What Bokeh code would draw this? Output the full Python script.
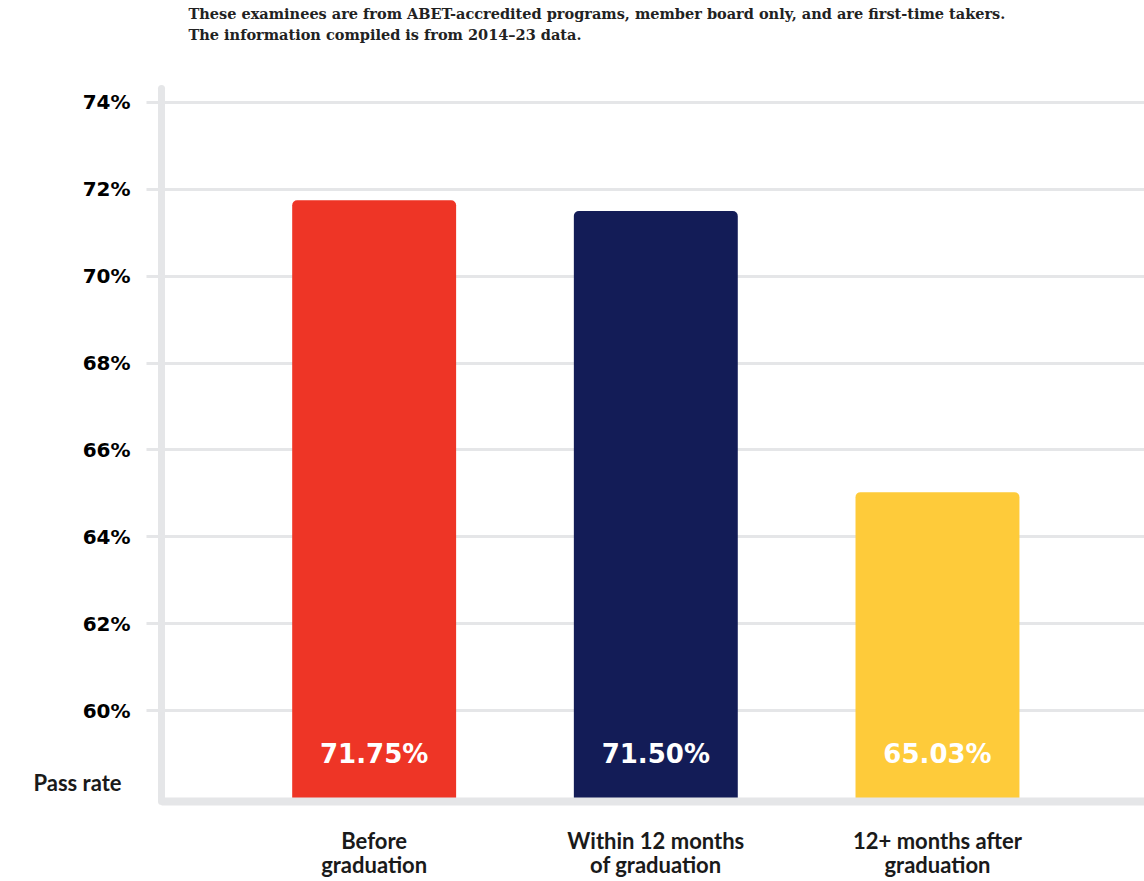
from bokeh.plotting import figure
from bokeh.models import (FixedTicker, PrintfTickFormatter, ColumnDataSource, Range1d,
                          Title, LinearAxis)
from bokeh.embed import file_html
from bokeh.resources import INLINE

categories = ["Before\ngraduation", "Within 12 months\nof graduation", "12+ months after\ngraduation"]
pass_rates = [71.75, 71.50, 65.03]
value_labels = ["71.75%", "71.50%", "65.03%"]
colors = ["#EE3526", "#131C57", "#FECB3A"]
y_ticks = [60, 62, 64, 66, 68, 70, 72, 74]
y_axis_title = "Pass rate"
subtitle_lines = [
    "These examinees are from ABET-accredited programs, member board only, and are first-time takers.",
    "The information compiled is from 2014\u201323 data.",
]

Y0, Y1 = 57.91, 74.32
xs = list(range(len(categories)))

src = ColumnDataSource(dict(x=xs, top=pass_rates, color=colors, lab=value_labels,
                            ly=[59.0] * len(xs)))

p = figure(width=1144, height=881, output_backend="svg", toolbar_location=None,
           x_range=Range1d(-0.755, 2.735), y_range=Range1d(Y0, Y1),
           min_border_left=161, min_border_top=88, min_border_bottom=80, min_border_right=0)
p.outline_line_color = None
p.background_fill_color = "white"

p.vbar(x="x", top="top", bottom=Y0 - 1, width=0.582, fill_color="color", line_color=None,
       border_radius=(5, 5, 0, 0), source=src)
p.text(x="x", y="ly", text="lab", text_color="white", text_font_size="26px",
       text_font_style="bold", text_font={"value": "DejaVu Sans"}, text_align="center",
       text_baseline="middle", source=src)

grey = "#E5E6E8"
# y axis
ya = p.yaxis[0]
ya.ticker = FixedTicker(ticks=y_ticks)
ya.formatter = PrintfTickFormatter(format="%d%%")
ya.axis_line_color = grey
ya.axis_line_width = 7
ya.axis_line_cap = "round"
ya.major_tick_out = 15
ya.major_tick_in = 0
ya.major_tick_line_color = grey
ya.major_tick_line_width = 3
ya.minor_tick_line_color = None
ya.major_label_standoff = 16
ya.major_label_text_font = "DejaVu Sans"
ya.major_label_text_font_style = "bold"
ya.major_label_text_font_size = "20px"
ya.major_label_text_color = "#000000"

# secondary left axis carrying only the "Pass rate" caption
pa = LinearAxis(ticker=FixedTicker(ticks=[58.34]),
                major_label_overrides={58.34: y_axis_title})
pa.axis_line_color = None
pa.major_tick_line_color = None
pa.minor_tick_line_color = None
pa.major_label_standoff = -48
pa.major_label_text_font = "Lato"
pa.major_label_text_font_style = "bold"
pa.major_label_text_font_size = "22px"
pa.major_label_text_color = "#1A1A1A"
p.add_layout(pa, "left")

# x axis
xa = p.xaxis[0]
xa.ticker = FixedTicker(ticks=xs)
xa.major_label_overrides = {i: c for i, c in zip(xs, categories)}
xa.axis_line_color = grey
xa.axis_line_width = 8
xa.major_tick_line_color = None
xa.minor_tick_line_color = None
xa.major_label_standoff = 19
xa.major_label_text_font = "Lato"
xa.major_label_text_font_style = "bold"
xa.major_label_text_font_size = "22px"
xa.major_label_text_color = "#1A1A1A"
xa.major_label_text_line_height = 0.9

p.xgrid.grid_line_color = None
p.ygrid.ticker = FixedTicker(ticks=y_ticks)
p.ygrid.grid_line_color = grey
p.ygrid.grid_line_width = 3

# subtitle (two spacer lines below keep the text near the top of the header)
t = Title(text="\n".join(subtitle_lines + ["\u00a0", "\u00a0"]), align="left", offset=27,
          text_font="DejaVu Serif", text_font_style="bold", text_font_size="14.5px",
          text_color="#222222", text_line_height=1.27, standoff=0, vertical_align="top")
p.add_layout(t, "above")

open("out.html", "w").write(file_html(p, INLINE))
